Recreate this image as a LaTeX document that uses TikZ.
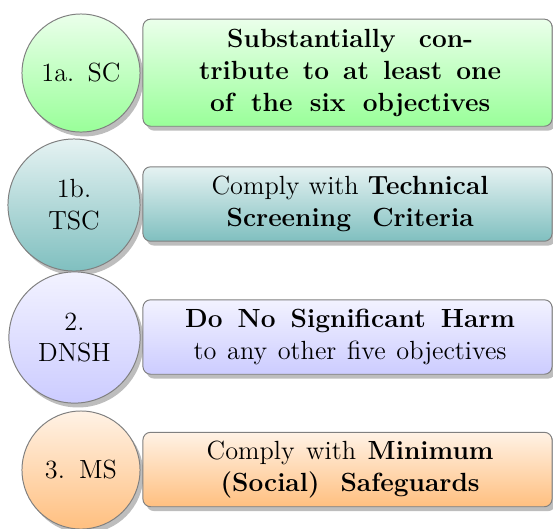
\documentclass[tikz,border=0pt]{standalone}
\usetikzlibrary{shadows,shadings}
\newcommand{\fitline}[2]{\makebox[#1pt][s]{#2}}
\newcommand{\bline}[2]{\hspace*{2.4pt}\makebox[#1pt][s]{#2}}
\begin{document}
\begin{tikzpicture}[x=0.4566pt,y=-0.4566pt,
  every node/.style={font=\fontsize{12pt}{14.5pt}\selectfont, text=black},
  myshadow/.style={drop shadow={shadow xshift=1.6pt, shadow yshift=-2pt, fill=black!26, opacity=1}},
  circ/.style={circle, draw=black!50, line width=0.45pt, align=center, inner sep=0pt, myshadow},
  descbox/.style={rectangle, rounded corners=3.5pt, draw=black!50, line width=0.45pt, align=center,
    minimum width=186.8pt, inner sep=0pt, myshadow},
  cgreen/.style={top color=green!8, bottom color=green!40},
  cteal/.style={top color=teal!10, bottom color=teal!50},
  cblue/.style={top color=blue!5, bottom color=blue!20},
  corange/.style={top color=orange!10, bottom color=orange!50}
]
\useasboundingbox (0,0) rectangle (553,528);
% circles
\node[circ, cgreen, minimum size=53.9pt] (c1) at (81,73) {\fitline{36.1}{1a. SC}};
\node[circ, cteal, minimum size=60.3pt] (c2) at (74,205) {1b.\\TSC};
\node[circ, cblue, minimum size=59.9pt] (c3) at (74.5,337.5) {2.\\DNSH};
\node[circ, corange, minimum size=53.9pt] (c4) at (81,470) {\fitline{32.9}{3. MS}};
% boxes
\node[descbox, cgreen, minimum height=48.9pt] (d1) at (347.5,72.7)
  {\bfseries \bline{112.3}{Substantially con-}\\\bfseries \bline{137.9}{tribute to at least one}\\\bfseries \bline{127.9}{of the six objectives}};
\node[descbox, cteal, minimum height=34pt] (d2) at (347.5,204)
  {\bline{126.5}{Comply with \textbf{Technical}}\\\bline{112.8}{\bfseries Screening Criteria}};
\node[descbox, cblue, minimum height=34pt] (d3) at (347.5,337)
  {\bline{150.7}{\bfseries Do No Significant Harm}\\\bline{142.9}{to any other five objectives}};
\node[descbox, corange, minimum height=34pt] (d4) at (347.5,469.5)
  {\bline{131}{Comply with \textbf{Minimum}}\\\bline{118.3}{\bfseries (Social) Safeguards}};
\end{tikzpicture}
\end{document}
